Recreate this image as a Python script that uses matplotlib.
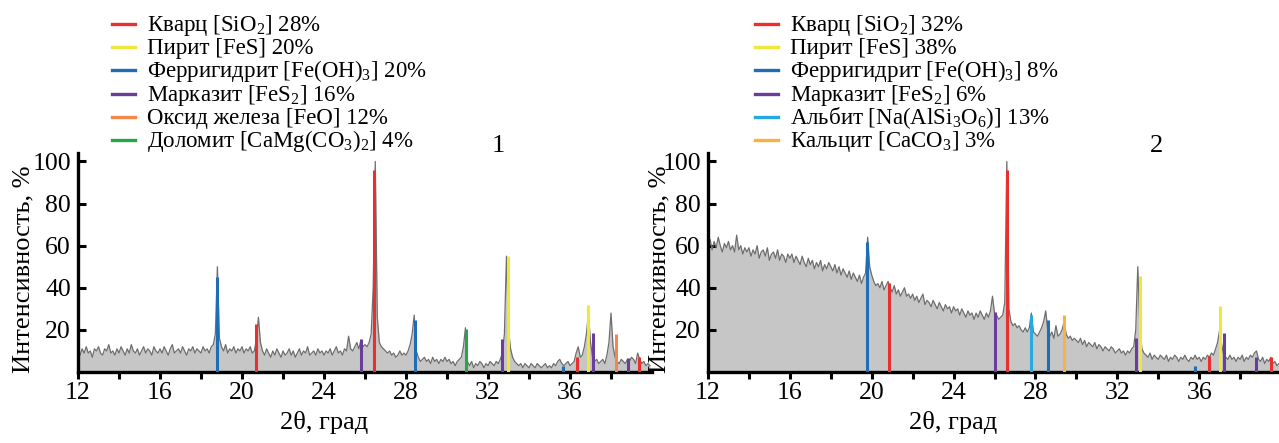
import numpy as np
import matplotlib.pyplot as plt
from matplotlib.lines import Line2D

plt.rcParams['font.family'] = ['Liberation Serif', 'DejaVu Serif']
plt.rcParams['mathtext.fontset'] = 'custom'
plt.rcParams['mathtext.rm'] = 'Liberation Serif'
plt.rcParams['mathtext.default'] = 'regular'

# 2theta grid, 0.1 deg step
two_theta = np.round(np.arange(12.0, 39.95, 0.1), 1)

# diffractogram 1 (intensity, %)
pattern1 = [
    10, 8, 11, 9, 12, 9, 10, 7, 11, 10, 12, 9, 8, 11, 10, 13, 9, 10, 8, 11,
    9, 12, 10, 8, 11, 9, 13, 10, 9, 11, 8, 10, 12, 9, 11, 10, 8, 12, 10, 9,
    11, 9, 12, 10, 8, 11, 13, 9, 10, 11, 9, 12, 10, 8, 11, 10, 12, 9, 11, 10,
    9, 12, 10, 11, 9, 12, 13, 18, 50, 16, 12, 10, 13, 9, 11, 10, 12, 9, 11, 10,
    12, 9, 11, 10, 12, 9, 10, 15, 26, 14, 10, 8, 11, 9, 7, 10, 8, 11, 9, 7,
    10, 8, 9, 11, 8, 10, 7, 9, 11, 8, 10, 9, 12, 8, 9, 10, 8, 11, 9, 10,
    8, 10, 9, 11, 8, 10, 12, 9, 10, 8, 11, 10, 17, 11, 10, 12, 14, 11, 15, 12,
    13, 12, 14, 18, 40, 100, 26, 14, 12, 11, 10, 9, 10, 8, 9, 7, 8, 10, 8, 9,
    8, 10, 13, 18, 27, 10, 7, 5, 6, 7, 5, 6, 4, 7, 5, 6, 4, 6, 5, 7,
    5, 6, 4, 5, 3, 5, 6, 7, 12, 21, 5, 3, 5, 2, 4, 3, 5, 4, 2, 4,
    3, 5, 4, 3, 5, 4, 6, 9, 18, 55, 20, 11, 7, 5, 4, 3, 4, 2, 4, 3,
    2, 4, 3, 2, 4, 3, 2, 3, 4, 2, 3, 2, 4, 3, 5, 6, 4, 3, 4, 5,
    3, 4, 5, 9, 12, 7, 8, 12, 18, 28, 14, 7, 5, 6, 4, 5, 6, 4, 8, 14,
    28, 12, 7, 5, 4, 6, 5, 4, 6, 5, 7, 6, 4, 9, 6, 4, 5, 3, 4, 3,
]

# diffractogram 2 (intensity, %)
pattern2 = [
    60, 63, 58, 62, 59, 64, 60, 57, 61, 59, 62, 58, 60, 57, 65, 58, 60, 56, 59, 57,
    59, 55, 58, 56, 60, 54, 57, 58, 55, 59, 53, 56, 57, 54, 58, 53, 56, 55, 52, 56,
    54, 56, 52, 55, 53, 51, 55, 52, 50, 54, 51, 53, 49, 52, 50, 53, 48, 51, 49, 52,
    50, 48, 51, 47, 50, 46, 49, 47, 45, 48, 44, 47, 45, 43, 46, 42, 45, 47, 64, 50,
    46, 43, 41, 42, 40, 43, 39, 41, 43, 40, 38, 41, 37, 39, 36, 38, 40, 36, 37, 35,
    37, 34, 36, 33, 35, 37, 32, 34, 33, 31, 34, 32, 30, 33, 31, 29, 32, 30, 31, 28,
    31, 29, 30, 27, 30, 28, 26, 29, 27, 28, 25, 28, 26, 29, 27, 25, 28, 26, 29, 36,
    28, 27, 25, 26, 27, 33, 100, 30, 24, 22, 23, 21, 22, 20, 19, 21, 19, 21, 28, 19,
    18, 17, 19, 21, 24, 29, 20, 17, 19, 16, 22, 17, 18, 20, 24, 18, 16, 17, 15, 16,
    15, 14, 16, 13, 15, 12, 14, 13, 12, 14, 11, 13, 12, 10, 12, 11, 10, 12, 11, 9,
    10, 11, 9, 10, 8, 10, 9, 11, 12, 20, 50, 22, 11, 9, 8, 7, 9, 6, 8, 7,
    6, 8, 7, 6, 8, 5, 7, 6, 8, 7, 5, 7, 6, 8, 6, 5, 7, 6, 8, 6,
    7, 5, 7, 6, 8, 7, 9, 8, 11, 14, 20, 13, 8, 7, 6, 8, 6, 7, 5, 7,
    6, 8, 5, 7, 6, 8, 7, 9, 10, 6, 5, 7, 4, 6, 5, 7, 4, 5, 3, 4,
]

# phases
labels1 = [r'Кварц [Si$O_2$] 28%', r'Пирит [FeS] 20%',
           r'Ферригидрит [Fe$(OH)_3$] 20%', r'Марказит [Fe$S_2$] 16%',
           r'Оксид железа [FeO] 12%', r'Доломит [CaMg$(CO_3)_2$] 4%']
colors1 = ['#e8312f', '#f0e63c', '#1f6db5', '#6a3d9a', '#f4874b', '#22a84a']

labels2 = [r'Кварц [Si$O_2$] 32%', r'Пирит [FeS] 38%',
           r'Ферригидрит [Fe$(OH)_3$] 8%', r'Марказит [Fe$S_2$] 6%',
           r'Альбит [Na(Al$Si_3O_6$)] 13%', r'Кальцит [CaC$O_3$] 3%']
colors2 = ['#e8312f', '#f0e63c', '#1f6db5', '#6a3d9a', '#26a9e0', '#fbb040']

# reference lines: position, intensity, phase index
pos1 = [18.78, 28.45, 35.66, 20.7, 26.45, 36.35, 39.37, 25.8, 32.7, 37.1, 38.83,
        30.93, 32.98, 36.9, 38.24]
int1 = [45, 24.5, 3, 23, 96, 7, 7, 15.5, 15.5, 18.5, 6.5, 20.5, 55, 32, 18]
ph1 = [2, 2, 2, 0, 0, 0, 0, 3, 3, 3, 3, 5, 1, 1, 4]

pos2 = [19.76, 28.6, 35.8, 20.83, 26.63, 36.5, 39.5, 26.0, 32.9, 37.2, 38.8,
        27.8, 29.4, 33.1, 37.0]
int2 = [61.5, 24.5, 3, 42.5, 96, 7.5, 7, 28.5, 16, 18.5, 7.2, 27, 27, 45.5, 31.5]
ph2 = [2, 2, 2, 0, 0, 0, 0, 3, 3, 3, 3, 4, 5, 1, 1]

W, H = 1279, 443
fig = plt.figure(figsize=(W / 100, H / 100), dpi=100)


def panel(rect, xmax, y, pos, inten, ph, colors, tag, tag_x, ylab_x):
    ax = fig.add_axes(rect)
    ax.fill_between(two_theta, 0, y, color='#c6c6c6', lw=0)
    ax.plot(two_theta, y, color='#6e6e6e', lw=0.9)
    ax.vlines(pos, 0, inten, colors=[colors[i] for i in ph], lw=2.2, zorder=3)
    ax.set_xlim(12, xmax)
    ax.set_ylim(0, 104)
    for s in ['top', 'right']:
        ax.spines[s].set_visible(False)
    for s in ['left', 'bottom']:
        ax.spines[s].set_linewidth(2.4)
    ax.set_xticks([12, 16, 20, 24, 28, 32, 36])
    ax.set_xticks([14, 18, 22, 26, 30, 34, 38], minor=True)
    ax.set_yticks([20, 40, 60, 80, 100])
    ax.tick_params(axis='x', which='both', direction='out', length=5, width=2.2,
                   labelsize=18.5, pad=2)
    ax.tick_params(axis='y', direction='in', length=6, width=2.2,
                   labelsize=18.5, pad=5)
    ax.set_xlabel('2θ, град', fontsize=19, labelpad=5)
    ax.xaxis.label.set_x((24 - 12) / (xmax - 12))
    ax.set_ylabel('Интенсивность, %', fontsize=19)
    ax.yaxis.set_label_coords(ylab_x, 0.47)
    ax.text(tag_x, 104.5, tag, fontsize=19, ha='center', va='baseline')
    return ax


panel([78 / W, 1 - 372 / H, 574 / W, 219 / H], 40.0, pattern1,
      pos1, int1, ph1, colors1, '1', 32.5, -0.075)
panel([708 / W, 1 - 372 / H, 571 / W, 219 / H], 39.9, pattern2,
      pos2, int2, ph2, colors2, '2', 33.9, -0.066)


def legend(labels, colors, x0, x1, xt):
    for i, (lab, c) in enumerate(zip(labels, colors)):
        yc = 24 + 23.2 * i
        fig.add_artist(Line2D([x0 / W, x1 / W], [1 - yc / H, 1 - yc / H],
                              transform=fig.transFigure, color=c, lw=2.4))
        fig.text(xt / W, 1 - (yc + 7) / H, lab, fontsize=16.5, va='baseline')


legend(labels1, colors1, 112, 135, 147)
legend(labels2, colors2, 755, 778, 790)

fig.savefig('out.png', dpi=100)
